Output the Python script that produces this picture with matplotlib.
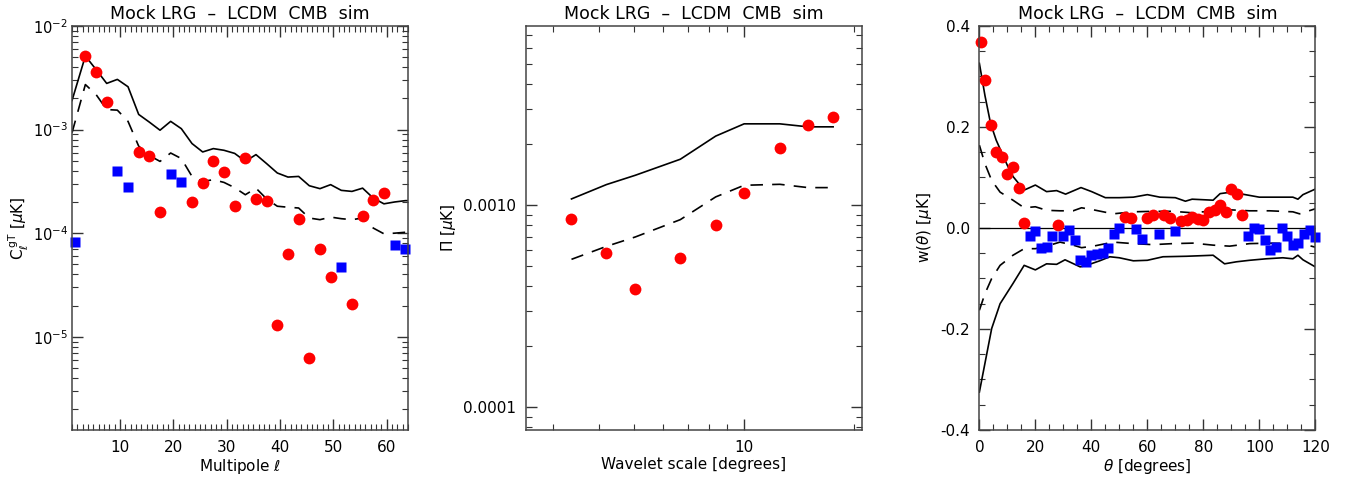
import numpy as np
import matplotlib
matplotlib.use('Agg')
import matplotlib.pyplot as plt
from matplotlib.ticker import FixedLocator, NullFormatter, MultipleLocator, LogLocator, FixedFormatter

# ---- panel 1: harmonic space cross power (negative values = blue squares)
ell = np.arange(1.5, 64.0, 2.0)
cl = [-8.2e-5, 5.08e-3, 3.59e-3, 1.85e-3, -3.95e-4, -2.79e-4, 6.12e-4, 5.6e-4,
      1.6e-4, -3.75e-4, -3.09e-4, 2.0e-4, 3.05e-4, 4.94e-4, 3.89e-4, 1.81e-4,
      5.32e-4, 2.16e-4, 2.04e-4, 1.30e-5, 6.27e-5, 1.36e-4, 6.3e-6, 7.05e-5,
      3.75e-5, -4.75e-5, 2.06e-5, 1.45e-4, 2.08e-4, 2.44e-4, -7.7e-5, -7.0e-5]
ell_line = [1.0, 3.5, 5.5, 7.5, 9.5, 11.5, 13.5, 15.5, 17.5, 19.5, 21.5, 23.5,
            25.5, 27.5, 29.5, 31.5, 33.5, 35.5, 37.5, 39.5, 41.5, 43.5, 45.5,
            47.5, 49.5, 51.5, 53.5, 55.5, 57.5, 59.5, 61.5, 63.5, 64.0]
cl_2sig = [1.91e-3, 5.13e-3, 3.80e-3, 2.79e-3, 3.05e-3, 2.59e-3, 1.40e-3, 1.18e-3,
           9.86e-4, 1.20e-3, 1.02e-3, 7.33e-4, 6.08e-4, 6.55e-4, 6.31e-4, 5.89e-4,
           4.94e-4, 5.73e-4, 4.69e-4, 3.81e-4, 3.48e-4, 3.53e-4, 2.87e-4, 2.69e-4,
           2.94e-4, 2.59e-4, 2.53e-4, 2.72e-4, 2.18e-4, 1.92e-4, 2.00e-4, 2.06e-4, 2.06e-4]
cl_1sig = [9.33e-4, 2.72e-3, 2.18e-3, 1.56e-3, 1.54e-3, 1.20e-3, 6.92e-4, 5.62e-4,
           4.93e-4, 5.94e-4, 5.25e-4, 3.53e-4, 3.16e-4, 3.28e-4, 3.09e-4, 2.75e-4,
           2.35e-4, 2.72e-4, 2.14e-4, 1.82e-4, 1.78e-4, 1.75e-4, 1.40e-4, 1.35e-4,
           1.43e-4, 1.38e-4, 1.35e-4, 1.40e-4, 1.12e-4, 9.86e-5, 1.00e-4, 1.02e-4, 1.02e-4]

# ---- panel 2: wavelet covariance
scale = [3.37, 4.20, 5.04, 6.69, 8.36, 10.0, 12.52, 14.96, 17.52]
pi_val = [8.59e-4, 5.82e-4, 3.83e-4, 5.50e-4, 8.02e-4, 1.147e-3, 1.923e-3, 2.502e-3, 2.73e-3]
pi_2sig = [1.075e-3, 1.266e-3, 1.408e-3, 1.69e-3, 2.2e-3, 2.53e-3, 2.53e-3, 2.445e-3, 2.445e-3]
pi_1sig = [5.40e-4, 6.26e-4, 6.97e-4, 8.49e-4, 1.1e-3, 1.256e-3, 1.27e-3, 1.223e-3, 1.223e-3]

# ---- panel 3: angular correlation function
theta = [0.6] + list(range(2, 121, 2))
wth = [0.369, 0.294, 0.203, 0.151, 0.141, 0.107, 0.121, 0.079, 0.009, -0.016,
       -0.005, -0.040, -0.038, -0.016, 0.005, -0.016, -0.004, -0.024, -0.063, -0.067,
       -0.054, -0.051, -0.050, -0.040, -0.011, -0.001, 0.022, 0.019, -0.003, -0.022,
       0.019, 0.026, -0.011, 0.026, 0.019, -0.005, 0.013, 0.015, 0.021, 0.017,
       0.016, 0.031, 0.036, 0.046, 0.032, 0.077, 0.067, 0.026, -0.016, -0.001,
       -0.003, -0.024, -0.044, -0.038, -0.001, -0.016, -0.034, -0.030, -0.012, -0.004,
       -0.017]
th_up2 = [0, 2, 4, 6, 8, 10, 12, 16, 20, 24, 27.6, 30.8, 36.3, 40.1, 45, 50, 55,
          60, 64.5, 70, 73.6, 76, 83.5, 86, 90, 94, 100, 106, 112, 113.8, 115.6, 120]
w_up2 = [0.326, 0.262, 0.207, 0.174, 0.149, 0.124, 0.102, 0.075, 0.085, 0.072,
         0.074, 0.067, 0.080, 0.072, 0.060, 0.060, 0.061, 0.066, 0.061, 0.060,
         0.053, 0.057, 0.055, 0.068, 0.071, 0.067, 0.061, 0.061, 0.061, 0.057, 0.066, 0.077]
th_lo2 = [0, 4.4, 7.4, 12, 16, 20, 24, 27.6, 30.6, 36, 38.3, 43, 46.6, 50, 55, 60,
          65.6, 74, 83.5, 87.6, 91.8, 96.5, 102.5, 108.4, 112, 113.8, 115.6, 120]
w_lo2 = [-0.325, -0.199, -0.150, -0.110, -0.074, -0.083, -0.071, -0.072, -0.063,
         -0.077, -0.074, -0.065, -0.057, -0.059, -0.065, -0.064, -0.057, -0.056,
         -0.054, -0.071, -0.067, -0.064, -0.061, -0.059, -0.061, -0.054, -0.063, -0.077]
th_1sig = [0, 2, 4.4, 7.4, 12, 16, 20, 24, 28.8, 33.5, 36.5, 40.7, 47.8, 55, 62,
           69, 76.3, 83.5, 89.4, 96.5, 103.7, 112, 114.4, 120]
w_up1 = [0.164, 0.127, 0.094, 0.071, 0.055, 0.040, 0.042, 0.035, 0.034, 0.034,
         0.040, 0.036, 0.028, 0.032, 0.033, 0.033, 0.030, 0.034, 0.036, 0.034,
         0.034, 0.032, 0.028, 0.038]
w_lo1 = [-0.163, -0.130, -0.100, -0.074, -0.054, -0.041, -0.041, -0.036, -0.028,
         -0.034, -0.039, -0.036, -0.028, -0.031, -0.033, -0.031, -0.030, -0.034,
         -0.036, -0.031, -0.030, -0.031, -0.030, -0.038]

title = 'Mock LRG  \u2013  LCDM  CMB  sim'
RED = '#ff0000'
BLUE = '#0000ff'
DASH = (0, (7.5, 5.5))


def split(xs, ys):
    xs = np.asarray(xs, float)
    ys = np.asarray(ys, float)
    pos = ys >= 0
    return xs[pos], ys[pos], xs[~pos], ys[~pos]


def style(ax):
    ax.tick_params(which='both', direction='in', top=True, right=True,
                   labelsize=11, color='#333333', pad=7)
    ax.tick_params(which='major', length=8, width=1)
    ax.tick_params(which='minor', length=4, width=0.8)
    for s in ax.spines.values():
        s.set_linewidth(1.1)
        s.set_color('#444444')
    ax.set_title(title, fontsize=12.5, pad=5)


fig = plt.figure(figsize=(13.49, 4.8), dpi=100)
W, H, B = 0.2490, 0.8417, 0.1042
ax1 = fig.add_axes([0.0534, B, W, H])
ax2 = fig.add_axes([0.3899, B, W, H])
ax3 = fig.add_axes([0.7260, B, W, H])

# panel 1
ax1.set_yscale('log')
ax1.plot(ell_line, cl_2sig, color='k', lw=1.2)
ax1.plot(ell_line, cl_1sig, color='k', lw=1.2, linestyle=DASH)
xp, yp, xn, yn = split(ell, cl)
ax1.plot(xp, yp, 'o', color=RED, ms=8.5, mec='none', clip_on=False)
ax1.plot(xn, -yn, 's', color=BLUE, ms=7.5, mec='none', clip_on=False)
ax1.set_xlim(1, 64)
ax1.set_ylim(1.26e-6, 1e-2)
ax1.xaxis.set_major_locator(FixedLocator([10, 20, 30, 40, 50, 60]))
ax1.xaxis.set_minor_locator(MultipleLocator(1))
ax1.yaxis.set_major_locator(FixedLocator([1e-5, 1e-4, 1e-3, 1e-2]))
ax1.yaxis.set_major_formatter(FixedFormatter(['$10^{-5}$', '$10^{-4}$', '$10^{-3}$', '$10^{-2}$']))
ax1.yaxis.set_minor_locator(LogLocator(base=10, subs=np.arange(2, 10), numticks=20))
ax1.yaxis.set_minor_formatter(NullFormatter())
ax1.set_xlabel(r'Multipole $\ell$', fontsize=11, labelpad=2)
ax1.set_ylabel(r'C$_\ell^{\,\mathrm{gT}}$ [$\mu$K]', fontsize=11, labelpad=1)
style(ax1)
ax1.tick_params(axis='y', labelsize=10.5, pad=3)

# panel 2
ax2.set_xscale('log')
ax2.set_yscale('log')
ax2.plot(scale, pi_2sig, color='k', lw=1.2)
ax2.plot(scale, pi_1sig, color='k', lw=1.2, linestyle=DASH)
ax2.plot(scale, pi_val, 'o', color=RED, ms=8.5, mec='none')
ax2.set_xlim(2.53, 21.0)
ax2.set_ylim(7.72e-5, 7.72e-3)
ax2.xaxis.set_major_locator(FixedLocator([10]))
ax2.xaxis.set_major_formatter(FixedFormatter(['10']))
ax2.xaxis.set_minor_locator(FixedLocator([3, 4, 5, 6, 7, 8, 9, 20]))
ax2.xaxis.set_minor_formatter(NullFormatter())
ax2.yaxis.set_major_locator(FixedLocator([1e-4, 1e-3]))
ax2.yaxis.set_major_formatter(FixedFormatter(['0.0001', '0.0010']))
ax2.yaxis.set_minor_locator(LogLocator(base=10, subs=np.arange(2, 10), numticks=20))
ax2.yaxis.set_minor_formatter(NullFormatter())
ax2.set_xlabel('Wavelet scale [degrees]', fontsize=11, labelpad=2)
ax2.set_ylabel(r'$\Pi$ [$\mu$K]', fontsize=11, labelpad=4)
style(ax2)

# panel 3
ax3.axhline(0, color='k', lw=0.9)
ax3.plot(th_up2, w_up2, color='k', lw=1.2)
ax3.plot(th_lo2, w_lo2, color='k', lw=1.2)
ax3.plot(th_1sig, w_up1, color='k', lw=1.2, linestyle=DASH)
ax3.plot(th_1sig, w_lo1, color='k', lw=1.2, linestyle=DASH)
xp, yp, xn, yn = split(theta, wth)
ax3.plot(xp, yp, 'o', color=RED, ms=8.5, mec='none', clip_on=False)
ax3.plot(xn, yn, 's', color=BLUE, ms=7.5, mec='none', clip_on=False)
ax3.set_xlim(0, 120)
ax3.set_ylim(-0.4, 0.4)
ax3.xaxis.set_major_locator(MultipleLocator(20))
ax3.xaxis.set_minor_locator(MultipleLocator(5))
ax3.yaxis.set_major_locator(MultipleLocator(0.2))
ax3.yaxis.set_minor_locator(MultipleLocator(0.05))
ax3.yaxis.set_major_formatter(plt.FuncFormatter(lambda v, p: '%.1f' % v if abs(v) > 1e-9 else '0.0'))
ax3.set_xlabel(r'$\theta$ [degrees]', fontsize=11, labelpad=2)
ax3.set_ylabel(r'w($\theta$) [$\mu$K]', fontsize=11, labelpad=4)
style(ax3)

fig.savefig('out.png', dpi=100)
